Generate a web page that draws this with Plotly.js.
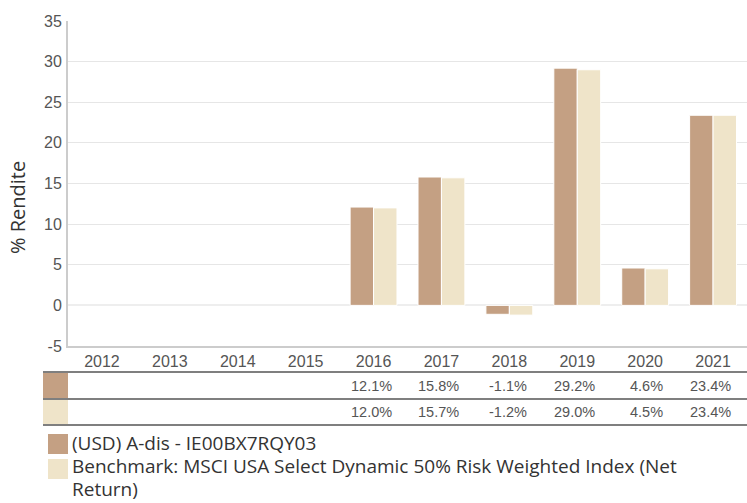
<!DOCTYPE html>
<html>
<head>
<meta charset="utf-8">
<script src="https://cdn.plot.ly/plotly-3.0.1.min.js"></script>
<style>html,body{margin:0;padding:0;background:#fff;}#chart{width:747px;height:503px;}</style>
</head>
<body>
<div id="chart"></div>
<script>
const years = ['2012','2013','2014','2015','2016','2017','2018','2019','2020','2021'];
const fundValues = [null,null,null,null,12.1,15.8,-1.1,29.2,4.6,23.4];
const benchValues = [null,null,null,null,12.0,15.7,-1.2,29.0,4.5,23.4];
const seriesNames = ['(USD) A-dis - IE00BX7RQY03','Benchmark: MSCI USA Select Dynamic 50% Risk Weighted Index (Net<br>Return)'];
const seriesColors = ['#C4A083','#EFE4C9'];
const yTicks = [-5,0,5,10,15,20,25,30,35];
const yTitle = '% Rendite';

// geometry helpers (pixel -> paper)
const L = 68, T = 21, W = 679, H = 325;
const px = x => (x - L) / W;
const py = y => (T + H - y) / H;

const traces = [fundValues, benchValues].map((vals, i) => ({
  type: 'bar', x: years, y: vals, name: seriesNames[i],
  marker: {color: seriesColors[i], line: {color: '#ffffff', width: 1}},
  hoverinfo: 'skip', showlegend: false
}));

const fmt = v => (v === null ? '' : v.toFixed(1) + '%');
const annotations = [];
const tableFont = {family: '"Liberation Sans", Arial, sans-serif', size: 14.5, color: '#555555'};
[fundValues, benchValues].forEach((vals, r) => {
  const yc = r === 0 ? 386 : 412;
  vals.forEach((v, i) => {
    if (v === null) return;
    annotations.push({xref: 'x', yref: 'paper', x: i, y: py(yc), text: fmt(v),
      showarrow: false, xanchor: 'right', yanchor: 'middle', xshift: 20, font: tableFont});
  });
});
// y title
annotations.push({xref: 'paper', yref: 'paper', x: px(17), y: py(208), text: yTitle, textangle: -90,
  showarrow: false, xanchor: 'center', yanchor: 'middle',
  font: {family: '"Open Sans", "Noto Sans", sans-serif', size: 20, color: '#333333'}});
// legend (custom, drawn as text lines)
const legFont = {family: '"Open Sans", "Noto Sans", sans-serif', size: 19, color: '#333333'};
const legLines = [];
seriesNames.forEach(n => n.split('<br>').forEach(s => legLines.push(s)));
const legY = [443, 466, 489];
legLines.forEach((s, k) => annotations.push({xref: 'paper', yref: 'paper', x: px(70), y: py(legY[k]), text: s,
  showarrow: false, xanchor: 'left', yanchor: 'middle', align: 'left', font: legFont}));

const shapes = [];
const lineC = '#555555';
[372, 399, 425].forEach(y => shapes.push({type: 'line', xref: 'paper', yref: 'paper',
  x0: px(43), x1: 1, y0: py(y), y1: py(y), line: {color: lineC, width: 1.5}}));
shapes.push({type: 'rect', xref: 'paper', yref: 'paper', x0: px(43), x1: px(68), y0: py(373), y1: py(398),
  fillcolor: seriesColors[0], line: {width: 0}});
shapes.push({type: 'rect', xref: 'paper', yref: 'paper', x0: px(43), x1: px(68), y0: py(400), y1: py(424),
  fillcolor: seriesColors[1], line: {width: 0}});
shapes.push({type: 'rect', xref: 'paper', yref: 'paper', x0: px(48), x1: px(68), y0: py(434), y1: py(454),
  fillcolor: seriesColors[0], line: {width: 0}});
shapes.push({type: 'rect', xref: 'paper', yref: 'paper', x0: px(48), x1: px(68), y0: py(459), y1: py(479),
  fillcolor: seriesColors[1], line: {width: 0}});

const layout = {
  width: 747, height: 503,
  margin: {l: L, r: 747 - L - W, t: T, b: 503 - T - H, pad: 0},
  paper_bgcolor: '#ffffff', plot_bgcolor: '#ffffff',
  barmode: 'group', bargap: 0.31, bargroupgap: 0,
  showlegend: false,
  font: {family: '"Liberation Sans", Arial, sans-serif', size: 16, color: '#555555'},
  xaxis: {type: 'category', range: [-0.5, years.length - 0.5],
    showline: true, linecolor: '#cccccc', linewidth: 2, showgrid: false, ticks: '',
    tickfont: {size: 16, color: '#555555'}, fixedrange: true, zeroline: false},
  yaxis: {range: [-5, 35], tickvals: yTicks, ticktext: yTicks.map(String),
    showline: true, linecolor: '#cccccc', linewidth: 2, mirror: false,
    showgrid: true, gridcolor: '#e6e6e6', gridwidth: 1,
    zeroline: true, zerolinecolor: '#eeeeee', zerolinewidth: 2,
    ticks: '', ticklabelstandoff: 1, tickfont: {size: 16, color: '#555555'}, fixedrange: true},
  annotations: annotations,
  shapes: shapes
};

Plotly.newPlot('chart', traces, layout, {displayModeBar: false, staticPlot: true});
</script>
</body>
</html>
